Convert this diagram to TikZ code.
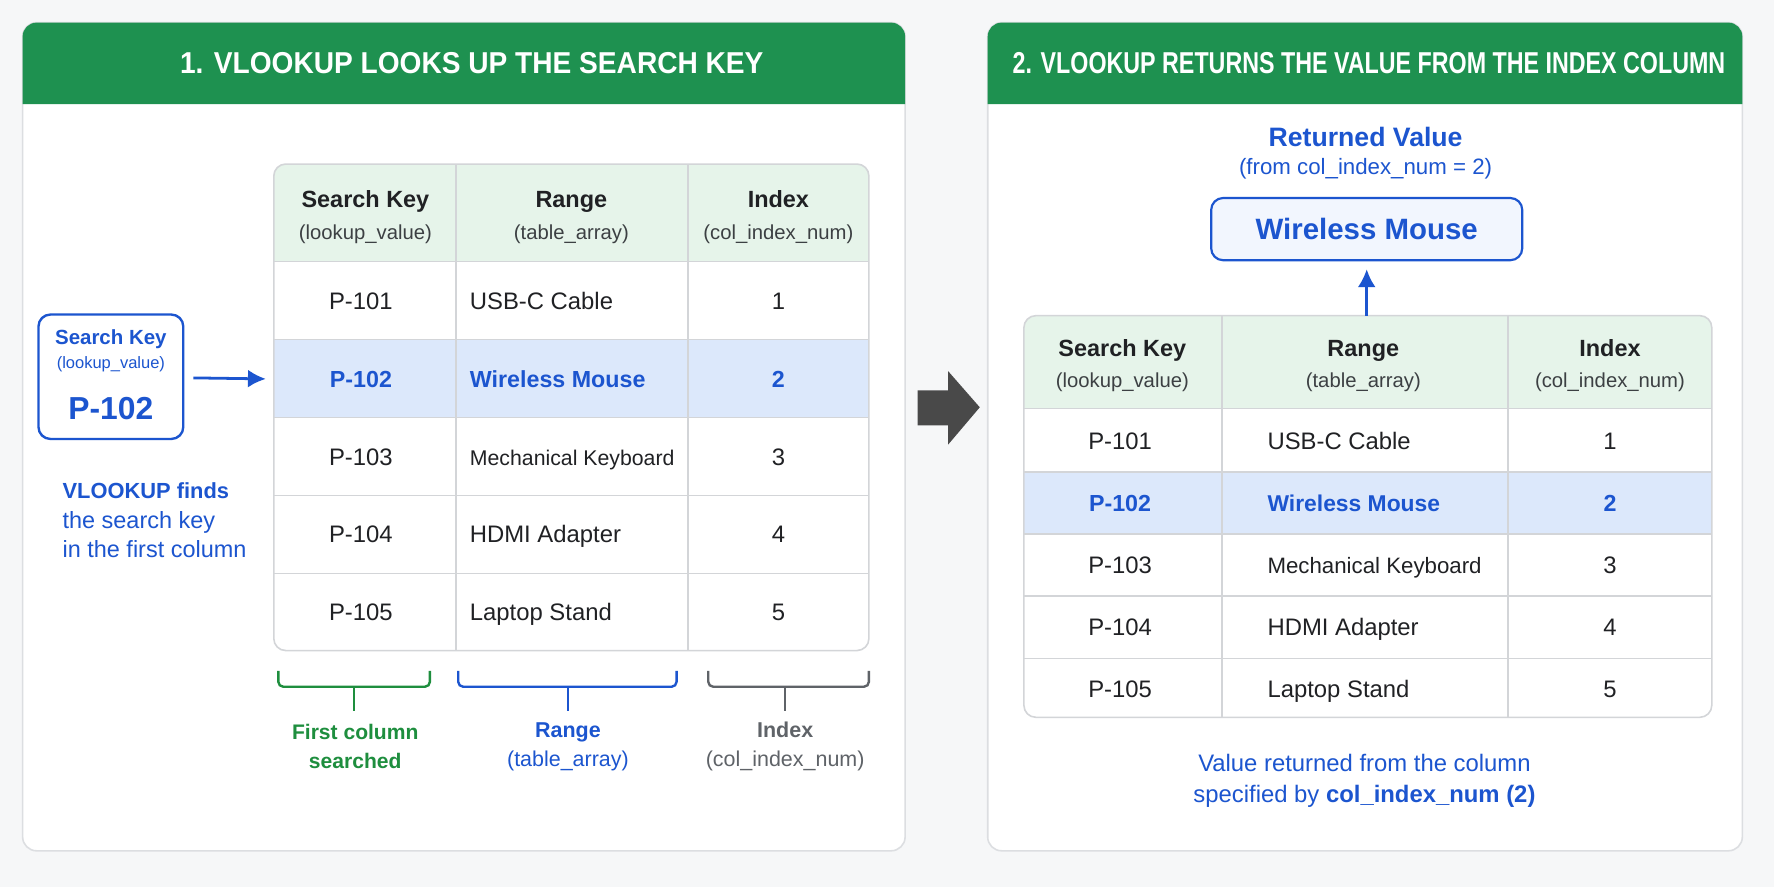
\documentclass[tikz,border=0pt]{standalone}
\usepackage{fontspec}
\usepackage{graphicx}
\setmainfont{Liberation Sans}
\usetikzlibrary{arrows.meta}

\definecolor{hdgreen}{HTML}{1E9150}
\definecolor{hdfill}{HTML}{E6F4EA}
\definecolor{hirow}{HTML}{DCE8FB}
\definecolor{retfill}{HTML}{F2F6FE}
\definecolor{vblue}{HTML}{1C55CF}
\definecolor{mkgreen}{HTML}{1E8E3E}
\definecolor{mkgray}{HTML}{5F6368}
\definecolor{gridline}{HTML}{D3D5D8}
\definecolor{panelline}{HTML}{DCDEE1}
\definecolor{pagebg}{HTML}{F6F7F8}
\definecolor{ink}{HTML}{202124}
\definecolor{subink}{HTML}{3C4043}
\definecolor{bigarrow}{HTML}{494949}

\tikzset{
  panel/.style={draw=panelline, fill=white, line width=0.8pt, rounded corners=7pt},
  hdtitle/.style={text=white, font=\bfseries\fontsize{15.2}{18}\selectfont},
  grid/.style={draw=gridline, line width=0.8pt},
  hcell/.style={font=\bfseries\fontsize{11.8}{14}\selectfont, text=ink, inner sep=0pt, text height=8.5pt, text depth=0pt},
  hsub/.style={font=\fontsize{10.2}{12}\selectfont, text=subink, inner sep=0pt, text height=7.3pt, text depth=0pt},
  cell/.style={font=\fontsize{12}{14}\selectfont, text=ink, inner sep=0pt, text height=8.6pt, text depth=0pt},
  hicell/.style={font=\bfseries\fontsize{11.7}{14}\selectfont, text=vblue, inner sep=0pt, text height=8.4pt, text depth=0pt},
  bracket/.style={line width=1.2pt, rounded corners=2.5pt},
  tag/.style={align=center, font=\fontsize{10.8}{14.8}\selectfont, inner sep=0pt},
  bluebox/.style={draw=vblue, line width=1.2pt, rounded corners=6pt},
  link/.style={->, vblue, line width=1.4pt},
}

\begin{document}
\begin{tikzpicture}[x=0.02cm, y=-0.02cm, >={Latex[length=9pt,width=9pt]}]
  \fill[pagebg] (0,0) rectangle (1568,784);
  \useasboundingbox (0,0) rectangle (1568,784);

  % ---- left panel
  \draw[panel] (20,20) rectangle (800,752);
  \fill[hdgreen] (20,92) [rounded corners=7pt] -- (20,20) -- (800,20) [sharp corners] -- (800,92) -- cycle;
  \node[hdtitle] (title1) at (417,56) {\scalebox{0.93}[1]{1. VLOOKUP LOOKS UP THE SEARCH KEY}};

  % table 1
  \fill[hdfill] (242,231) [rounded corners=6pt] -- (242,145) -- (768,145) [sharp corners] -- (768,231) -- cycle;
  \fill[hirow] (242,300) rectangle (768,369);
  \foreach \y in {231,300,369,438,507} \draw[grid] (242,\y) -- (768,\y);
  \foreach \x in {403,608} \draw[grid] (\x,145) -- (\x,575);
  \draw[grid, rounded corners=6pt] (242,145) rectangle (768,575);

  \node[hcell] (a-h1) at (323,176) {Search Key};
  \node[hsub]  (a-s1) at (323,205) {(lookup\_value)};
  \node[hcell] (a-h2) at (505,176) {Range};
  \node[hsub]  (a-s2) at (505,205) {(table\_array)};
  \node[hcell] (a-h3) at (688,176) {Index};
  \node[hsub]  (a-s3) at (688,205) {(col\_index\_num)};

  \foreach \y/\k/\r/\i/\s [count=\n] in {266/P-101/USB-C Cable/1/cell,
      335/P-102/Wireless Mouse/2/hicell,
      404/P-103/{\fontsize{10.7}{12}\selectfont Mechanical Keyboard}/3/cell,
      472/P-104/HDMI Adapter/4/cell,
      541/P-105/Laptop Stand/5/cell} {
    \node[\s] (a\n-key) at (319,\y) {\k};
    \node[\s, anchor=west] (a\n-rng) at (415,\y) {\r};
    \node[\s] (a\n-idx) at (688,\y) {\i};
  }
  \coordinate (a2w) at (242,335);

  % search key box
  \node[bluebox, fill=white, minimum width=2.56cm, minimum height=2.2cm] (skey) at (98,333) {};
  \node[font=\bfseries\fontsize{10.3}{12}\selectfont, text=vblue] (skey-t) at (98,300) {Search Key};
  \node[font=\fontsize{8.3}{10}\selectfont, text=vblue] (skey-s) at (98,322) {(lookup\_value)};
  \node[font=\bfseries\fontsize{16}{18}\selectfont, text=vblue] (skey-v) at (98,361) {P-102};
  \draw[link, shorten <=4.5pt, shorten >=4pt] (skey) -- (a2w);

  \node[anchor=north west, align=left, text=vblue, inner sep=0pt,
        font=\fontsize{11.8}{15}\selectfont] (finds) at (55,426)
    {{\bfseries\fontsize{11}{15}\selectfont VLOOKUP finds}\\the search key\\in the first column};

  % brackets under the table
  \draw[bracket, mkgreen] (246,593) |- (380,607) -- (380,593);
  \draw[bracket, mkgreen] (313,607) -- (313,628);
  \draw[bracket, vblue] (405,593) |- (598,607) -- (598,593);
  \draw[bracket, vblue] (502,607) -- (502,628);
  \draw[bracket, mkgray] (626,593) |- (768,607) -- (768,593);
  \draw[bracket, mkgray] (694,607) -- (694,628);

  \node[tag, text=mkgreen, font=\bfseries\fontsize{10.6}{14.8}\selectfont] (tag1) at (314,660) {First column\\searched};
  \node[tag, text=vblue] (tag2) at (502,660) {\textbf{Range}\\(table\_array)};
  \node[tag, text=mkgray] (tag3) at (694,660) {\textbf{Index}\\(col\_index\_num)};

  % ---- big arrow between panels
  \fill[bigarrow] (811,345) -- (838,345) -- (838,328) -- (866,360) -- (838,393) -- (838,376) -- (811,376) -- cycle;

  % ---- right panel
  \draw[panel] (873,20) rectangle (1540,752);
  \fill[hdgreen] (873,92) [rounded corners=7pt] -- (873,20) -- (1540,20) [sharp corners] -- (1540,92) -- cycle;
  \node[hdtitle] (title2) at (1210,56) {\scalebox{0.77}[1]{2. VLOOKUP RETURNS THE VALUE FROM THE INDEX COLUMN}};

  \node[font=\bfseries\fontsize{13.4}{16}\selectfont, text=vblue] (rv-t) at (1207,121) {Returned Value};
  \node[font=\fontsize{11.2}{14}\selectfont, text=vblue] (rv-s) at (1207,149) {(from col\_index\_num = 2)};
  \node[bluebox, line width=1.1pt, fill=retfill, minimum width=5.5cm, minimum height=1.1cm,
        font=\bfseries\fontsize{14.8}{17}\selectfont, text=vblue] (ret) at (1208,202.5) {Wireless Mouse};

  % table 2
  \fill[hdfill] (905,361) [rounded corners=6pt] -- (905,279) -- (1513,279) [sharp corners] -- (1513,361) -- cycle;
  \fill[hirow] (905,417) rectangle (1513,472);
  \foreach \y in {361,417,472,527,582} \draw[grid] (905,\y) -- (1513,\y);
  \foreach \x in {1080,1333} \draw[grid] (\x,279) -- (\x,634);
  \draw[grid, rounded corners=6pt] (905,279) rectangle (1513,634);

  \node[hcell] (b-h1) at (992,308) {Search Key};
  \node[hsub]  (b-s1) at (992,336) {(lookup\_value)};
  \node[hcell] (b-h2) at (1205,308) {Range};
  \node[hsub]  (b-s2) at (1205,336) {(table\_array)};
  \node[hcell] (b-h3) at (1423,308) {Index};
  \node[hsub]  (b-s3) at (1423,336) {(col\_index\_num)};

  \foreach \y/\k/\r/\i/\s [count=\n] in {390/P-101/USB-C Cable/1/cell,
      445/P-102/{\fontsize{11.5}{14}\selectfont Wireless Mouse}/2/hicell,
      499/P-103/{\fontsize{11.2}{14}\selectfont Mechanical Keyboard}/3/cell,
      554/P-104/HDMI Adapter/4/cell,
      609/P-105/Laptop Stand/5/cell} {
    \node[\s] (b\n-key) at (990,\y) {\k};
    \node[\s, anchor=west] (b\n-rng) at (1120,\y) {\r};
    \node[\s] (b\n-idx) at (1423,\y) {\i};
  }
  \coordinate (b-top) at (1208,279);
  \draw[link, line width=1.3pt, shorten >=4pt] (b-top) -- (ret);

  \node[align=center, text=vblue, font=\fontsize{12}{15.3}\selectfont] (note2) at (1206,690)
    {Value returned from the column\\specified by \textbf{col\_index\_num (2)}};
\end{tikzpicture}
\end{document}
